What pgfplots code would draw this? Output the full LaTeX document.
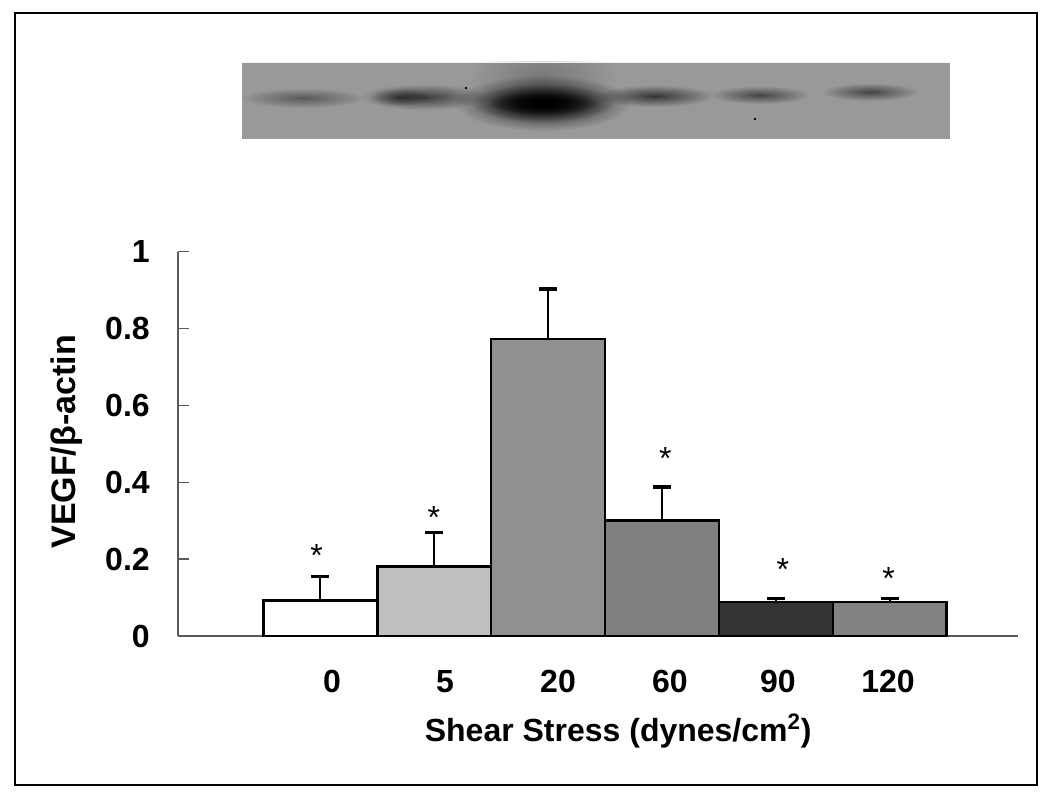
\documentclass[border=0pt]{standalone}
\usepackage{fontspec}
\setmainfont{Liberation Sans}
\usepackage{pgfplots}
\pgfplotsset{compat=1.18}
\usetikzlibrary{fadings}
\tikzfading[name=blob, inner color=transparent!0, outer color=transparent!100]
\definecolor{blotbg}{gray}{0.6}
\definecolor{axgray}{gray}{0.35}
\definecolor{bA}{gray}{1.0}
\definecolor{bB}{gray}{0.75}
\definecolor{bC}{gray}{0.565}
\definecolor{bD}{gray}{0.5}
\definecolor{bE}{gray}{0.2}
\definecolor{bF}{gray}{0.51}
\begin{document}
\begin{tikzpicture}
\begin{scope}[x=0.75pt,y=-0.75pt,shift={(-178,-636)}]
  \draw[line width=1.6pt] (15,13) rectangle (1037,785);
  \begin{scope}
    \clip (242,62) rectangle (950,139);
    \fill[blotbg] (242,62) rectangle (950,139);
    % lane 3 smear
    \fill[black, fill opacity=0.22, path fading=blob] (543,80) ellipse (75 and 48);
    % lane 1
    \fill[black, fill opacity=0.42, path fading=blob] (303,98) ellipse (62 and 10);
    % lane 2
    \fill[black, fill opacity=0.6, path fading=blob] (424,97) ellipse (64 and 13);
    \fill[black, fill opacity=0.5, path fading=blob] (400,97) ellipse (30 and 9);
    % lane 3
    \fill[black, fill opacity=0.9, path fading=blob] (543,103) ellipse (88 and 28);
    \fill[black, fill opacity=0.95, path fading=blob] (543,103) ellipse (72 and 19);
    \fill[black, fill opacity=0.9, path fading=blob] (543,103) ellipse (55 and 12);
    % lane 4
    \fill[black, fill opacity=0.65, path fading=blob] (655,96) ellipse (60 and 11);
    % lane 5
    \fill[black, fill opacity=0.55, path fading=blob] (760,95) ellipse (50 and 9);
    % lane 6
    \fill[black, fill opacity=0.55, path fading=blob] (870,92) ellipse (48 and 9);
    \fill[black] (466,88) circle (1.3);
    \fill[black] (755,119) circle (1.3);
    \draw[white!85!blotbg, line width=0.8pt] (242,62.5) -- (950,62.5);
  \end{scope}
\end{scope}
\begin{axis}[
  at={(0,0)}, anchor=south west,
  scale only axis, width=630pt, height=288.2pt,
  xmin=-1.249, xmax=6.125, ymin=0, ymax=1,
  axis x line*=bottom, axis y line*=left,
  axis line style={draw=axgray, line width=1.1pt},
  clip=false,
  tick align=inside,
  ytick={0,0.2,0.4,0.6,0.8,1},
  yticklabels={0,0.2,0.4,0.6,0.8,1},
  ytick style={draw=axgray, line width=1.1pt},
  major tick length=8.25pt,
  xtick={0.103,1.095,2.087,3.07,4.018,4.984},
  xticklabels={0,5,20,60,90,120},
  xtick style={draw=none},
  tick label style={font=\fontsize{24}{24}\selectfont\bfseries, inner sep=0pt},
  yticklabel style={anchor=east, xshift=-21pt},
  xticklabel style={anchor=base, yshift=-42.75pt},
  xlabel={Shear Stress (dynes/cm\textsuperscript{2})},
  ylabel={VEGF/β-actin},
  label style={font=\fontsize{24}{24}\selectfont\bfseries, inner sep=0pt},
  xlabel style={at={(axis description cs:0.524,-0.275)}, anchor=base},
  ylabel style={at={(axis description cs:-0.1226,0.505)}, anchor=base, font=\fontsize{25.5}{25.5}\selectfont\bfseries},
  barstyle/.style={ybar, bar width=1, bar shift=0pt, draw=black, line width=2pt,
    error bars/y dir=plus, error bars/y explicit,
    error bars/error bar style={line width=1.5pt, black},
    error bars/error mark options={rotate=90, line width=2.4pt, mark size=6.8pt, black}},
]
\addplot[barstyle, fill=bA] coordinates {(0,0.092) +- (0,0.062)};
\addplot[barstyle, fill=bB] coordinates {(1,0.180) +- (0,0.089)};
\addplot[barstyle, fill=bC] coordinates {(2,0.773) +- (0,0.130)};
\addplot[barstyle, fill=bD] coordinates {(3,0.300) +- (0,0.088)};
\addplot[barstyle, fill=bE] coordinates {(4,0.0885) +- (0,0.0085)};
\addplot[barstyle, fill=bF] coordinates {(5,0.0885) +- (0,0.0085)};
\addplot[draw=none, mark=none, nodes near coords, point meta=explicit symbolic,
  nodes near coords style={anchor=base, yshift=-13.8pt, inner sep=0pt,
    font=\fontsize{24}{24}\selectfont}]
  coordinates {(-0.032,0.229) [*] (0.998,0.328) [*] (3.03,0.480) [*] (4.06,0.193) [*] (4.99,0.169) [*]};
\end{axis}
\pgfresetboundingbox
\begin{scope}[x=0.75pt,y=-0.75pt,shift={(-178,-636)}]
  \path[use as bounding box] (0,0) rectangle (1050,799);
\end{scope}
\end{tikzpicture}
\end{document}
